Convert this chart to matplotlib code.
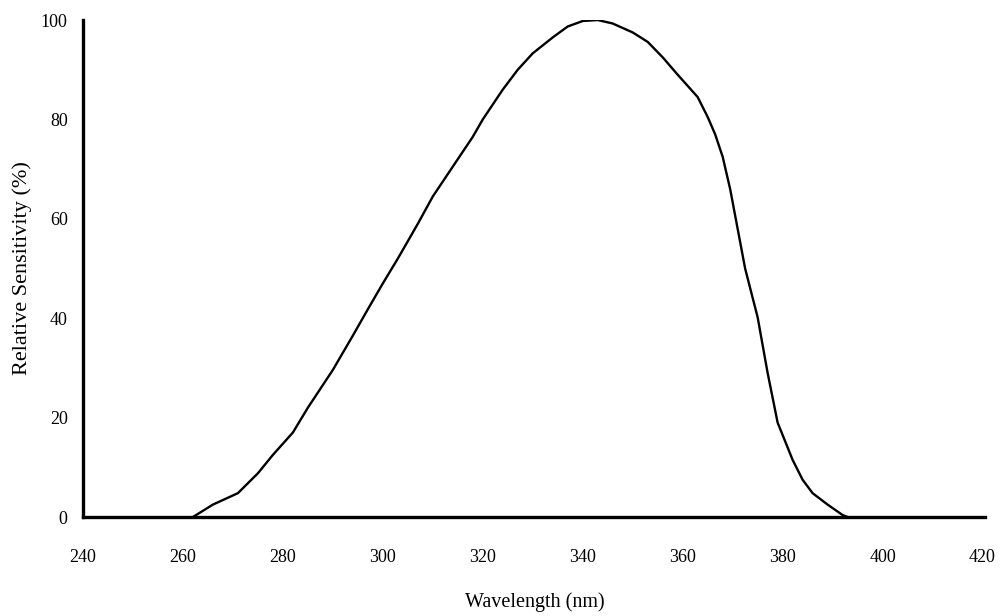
import matplotlib
matplotlib.use("Agg")
import matplotlib.pyplot as plt

# spectral response
wavelength = [262, 266, 271, 275, 278, 282, 285, 290, 294, 297, 300, 303, 307, 310,
              313, 318, 320, 324, 327, 330, 334, 337, 340, 343, 346, 350, 353, 356,
              359, 363, 365, 366.5, 368, 369.5, 371, 372.5, 375, 377, 379, 382, 384,
              386, 389, 392, 393]
sensitivity = [0, 2.5, 4.8, 8.8, 12.5, 17, 22, 29.6, 36.5, 41.8, 47, 52, 59, 64.5,
               69, 76.5, 80, 86, 90, 93.3, 96.5, 98.7, 99.8, 100, 99.3, 97.5, 95.6, 92.5,
               89, 84.5, 80.5, 77, 72.5, 66, 58, 50, 40.2, 29, 19, 11.5, 7.5,
               4.8, 2.5, 0.4, 0]
x_ticks = [240, 260, 280, 300, 320, 340, 360, 380, 400, 420]
y_ticks = [0, 20, 40, 60, 80, 100]

plt.rcParams["font.family"] = ["Liberation Serif", "DejaVu Serif"]

fig = plt.figure(figsize=(10, 6.16), dpi=100)
ax = fig.add_axes([0.083, 0.1607, 0.902, 0.8068])

ax.plot(wavelength, sensitivity, color="black", linewidth=1.7)

ax.set_xlim(240, 420.5)
ax.set_ylim(0, 100)
ax.set_xticks(x_ticks)
ax.set_yticks(y_ticks)
ax.tick_params(length=0, labelsize=13)
ax.tick_params(axis="x", pad=23)
ax.tick_params(axis="y", pad=11)

for side in ["top", "right"]:
    ax.spines[side].set_visible(False)
for side in ["left", "bottom"]:
    ax.spines[side].set_linewidth(2.4)

fig.text(0.535, 0.022, "Wavelength (nm)", ha="center", va="center", fontsize=14.5)
fig.text(0.022, 0.565, "Relative Sensitivity (%)", ha="center", va="center",
         rotation=90, fontsize=16)

fig.savefig("out.png", dpi=100)
